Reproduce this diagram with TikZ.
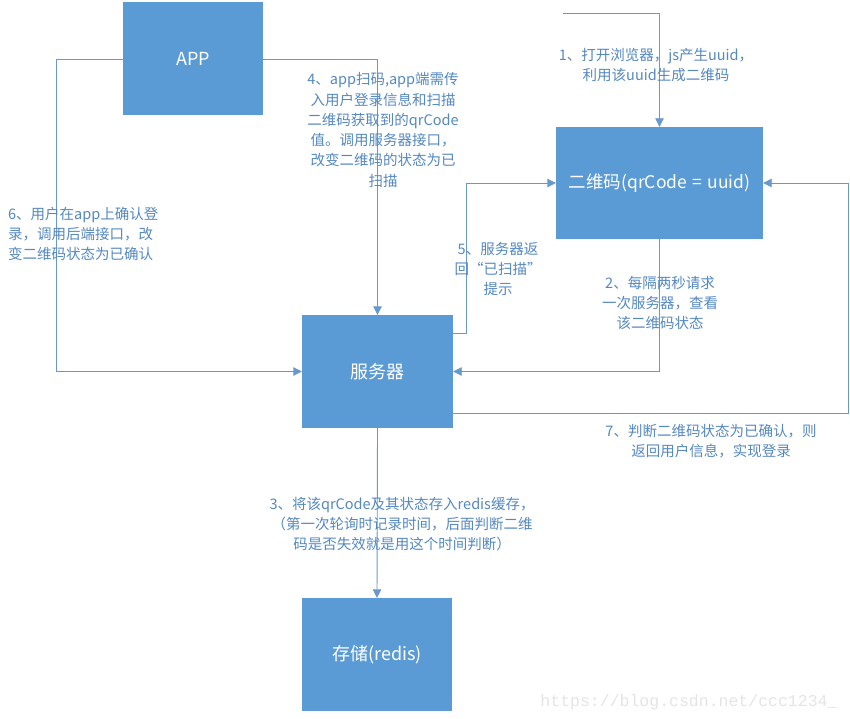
\documentclass[tikz,border=0pt]{standalone}
\usepackage{fontspec}
\setmainfont{Noto Sans CJK SC}
\newfontfamily\markfont{Liberation Mono}
\definecolor{boxblue}{RGB}{91,155,213}
\definecolor{linkblue}{RGB}{104,152,204}
\definecolor{noteblue}{RGB}{84,136,192}
\definecolor{markgray}{RGB}{228,228,228}
\usetikzlibrary{arrows.meta,positioning}

\begin{document}
\begin{tikzpicture}[x=1pt,y=-1pt,
    block/.style={fill=boxblue, text=white, inner sep=0pt,
                  font=\fontsize{18}{22}\selectfont},
    link/.style={draw=linkblue, line width=0.9pt,
                 -{Triangle[length=8.5pt,width=8.5pt]}},
    note/.style={text=noteblue, align=center, inner sep=0pt,
                 font=\fontsize{14.5}{20.3}\selectfont}]
  \useasboundingbox (0,0) rectangle (850,719);

  \node[block, minimum width=140pt, minimum height=113pt] (app) at (193,59) {APP};
  \node[block, minimum width=151pt, minimum height=113pt] (server) at (377.5,371.5) {服务器};
  \node[block, minimum width=207pt, minimum height=112pt, font=\fontsize{17.5}{22}\selectfont] (qr) at (659.5,183) {二维码(qrCode\hspace{0.3em}=\hspace{0.3em}uuid)};
  \node[block, minimum width=150pt, minimum height=113pt] (store) at (377,654.5) {存储(redis)};
  \coordinate (browser) at (563,13);

  \draw[link] (browser) -| (qr.north);
  \draw[link] (qr.south) |- (server.east);
  \draw[link] (app.east) -| (server.north);
  \draw[link] ([yshift=38.5pt]server.east) -- ++(13,0) |- (qr.west);
  \draw[link] (app.west) -- ++(-66,0) |- (server.west);
  \draw[link] ([yshift=-42pt]server.east) -- ++(395,0) |- (qr.east);
  \draw[link] (server.south) -- (store.north);

  \node[note] (n1) at (656,65) {1、打开浏览器，js产生uuid，\\利用该uuid生成二维码};
  \node[note] (n2) at (660,303) {2、每隔两秒请求\\一次服务器，查看\\该二维码状态};
  \node[note] (n3) at (402,524) {3、将该qrCode及其状态存入redis缓存，\\（第一次轮询时记录时间，后面判断二维\\码是否失效就是用这个时间判断）};
  \node[note] (n4) at (383,130) {4、app扫码,app端需传\\入用户登录信息和扫描\\二维码获取到的qrCode\\值。调用服务器接口，\\改变二维码的状态为已\\扫描};
  \node[note] (n5) at (498,269) {5、服务器返\\回“已扫描”\\提示};
  \node[note, align=left, anchor=west] (n6) at (8,234) {6、用户在app上确认登\\录，调用后端接口，改\\变二维码状态为已确认};
  \node[note] (n7) at (711,441) {7、判断二维码状态为已确认，则\\返回用户信息，实现登录};

  \node[text=markgray, font=\markfont\fontsize{16.5}{18}\selectfont, inner sep=0pt] (mark) at (689,702) {https://blog.csdn.net/ccc1234\_};
\end{tikzpicture}
\end{document}
